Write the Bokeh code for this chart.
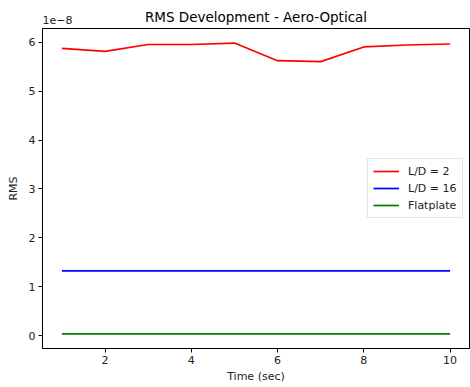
from bokeh.plotting import figure
from bokeh.models import (Range1d, SingleIntervalTicker, CustomJSTickFormatter,
                          Legend, LegendItem, LinearAxis, FixedTicker)
from bokeh.embed import file_html
from bokeh.resources import INLINE

time_sec = [1, 2, 3, 4, 5, 6, 7, 8, 9, 10]
rms_ld2 = [5.87e-8, 5.81e-8, 5.95e-8, 5.95e-8, 5.98e-8, 5.62e-8, 5.60e-8, 5.90e-8, 5.94e-8, 5.96e-8]
rms_ld16 = [1.33e-8] * 10
rms_flat = [0.04e-8] * 10
series_names = ["L/D = 2", "L/D = 16", "Flatplate"]
series_colors = ["#ff0000", "#0000ff", "#008000"]
title_text = "RMS Development - Aero-Optical"
offset_text = "1e\u22128"

FONT = "DejaVu Sans"

allv = rms_ld2 + rms_ld16 + rms_flat
ymin, ymax = min(allv), max(allv)
ypad = 0.05 * (ymax - ymin)
xpad = 0.05 * (max(time_sec) - min(time_sec))
x_start = min(time_sec) - xpad
x_end = max(time_sec) + xpad

p = figure(width=470, height=387, output_backend="svg", toolbar_location=None,
           x_range=Range1d(x_start, x_end),
           y_range=Range1d(ymin - ypad, ymax + ypad),
           min_border_left=42, min_border_right=1, min_border_top=28, min_border_bottom=39)

p.xgrid.visible = False
p.ygrid.visible = False
p.outline_line_color = "#000000"
p.outline_line_width = 1
p.background_fill_color = "white"
p.border_fill_color = "white"

p.xaxis.ticker = SingleIntervalTicker(interval=2, num_minor_ticks=0)
p.yaxis.ticker = SingleIntervalTicker(interval=1e-8, num_minor_ticks=0)
p.yaxis.formatter = CustomJSTickFormatter(code="return (tick/1e-8).toFixed(0);")

for ax in (p.xaxis[0], p.yaxis[0]):
    ax.major_label_text_font = FONT
    ax.major_label_text_font_size = "11px"
    ax.major_label_text_color = "#222222"
    ax.axis_label_text_font = FONT
    ax.axis_label_text_font_size = "11px"
    ax.axis_label_text_font_style = "normal"
    ax.axis_label_text_color = "#222222"
    ax.major_tick_in = 0
    ax.major_tick_out = 4
    ax.minor_tick_in = 0
    ax.minor_tick_out = 0
    ax.axis_line_color = "#000000"
    ax.major_tick_line_color = "#000000"
    ax.major_label_standoff = 3

p.xaxis.axis_label = "Time (sec)"
p.yaxis.axis_label = "RMS"
p.xaxis.axis_label_standoff = 3
p.yaxis.axis_label_standoff = 6

# top axis: carries the scientific offset text (as its only tick label)
# and the chart title (as its axis label), so both sit on the same line
top_axis = LinearAxis(
    ticker=FixedTicker(ticks=[x_start + 0.35]),
    formatter=CustomJSTickFormatter(code="return '%s';" % offset_text),
    axis_label=title_text,
    axis_line_color=None, major_tick_line_color=None, minor_tick_line_color=None,
    major_tick_in=0, major_tick_out=0, minor_tick_in=0, minor_tick_out=0,
    major_label_standoff=5,
    major_label_text_font=FONT, major_label_text_font_size="11px",
    major_label_text_color="#222222",
    axis_label_text_font=FONT, axis_label_text_font_size="13.5px",
    axis_label_text_font_style="normal", axis_label_text_color="#000000",
    axis_label_standoff=-12,
)
p.add_layout(top_axis, "above")

items = []
for name, col, ys in zip(series_names, series_colors, [rms_ld2, rms_ld16, rms_flat]):
    r = p.line(time_sec, ys, line_color=col, line_width=1.7)
    items.append(LegendItem(label=name, renderers=[r]))

legend = Legend(items=items, location=(325, 130))
legend.label_text_font = FONT
legend.label_text_font_size = "11px"
legend.label_text_color = "#222222"
legend.glyph_width = 26
legend.glyph_height = 14
legend.label_height = 14
legend.label_standoff = 9
legend.spacing = 3
legend.padding = 5
legend.margin = 0
legend.border_line_color = "#cccccc"
legend.border_line_width = 1
legend.background_fill_alpha = 0.8
p.add_layout(legend, "center")

open("out.html", "w").write(file_html(p, INLINE))
